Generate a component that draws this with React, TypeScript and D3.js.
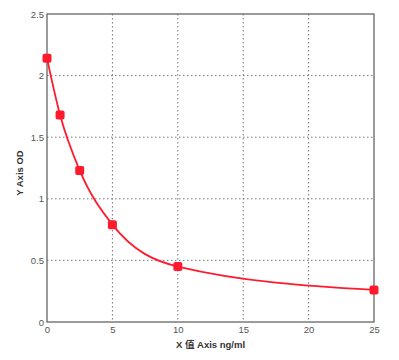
import React, { useEffect, useRef } from "react";
import * as d3 from "d3";

const concentrations = [0, 1, 2.5, 5, 10, 25];
const odValues = [2.14, 1.68, 1.23, 0.79, 0.45, 0.26];
const xTicks = [0, 5, 10, 15, 20, 25];
const yTicks = [0, 0.5, 1, 1.5, 2, 2.5];

export default function App() {
  const ref = useRef<SVGSVGElement>(null);

  useEffect(() => {
    const svg = d3.select(ref.current);
    svg.selectAll("*").remove();
    const margin = { left: 47, top: 14, right: 25, bottom: 38 };
    const width = 399;
    const height = 360;
    const innerW = width - margin.left - margin.right;
    const innerH = height - margin.top - margin.bottom;

    const x = d3.scaleLinear().domain([0, 25]).range([0, innerW]);
    const y = d3.scaleLinear().domain([0, 2.5]).range([innerH, 0]);

    const g = svg
      .append("g")
      .attr("transform", `translate(${margin.left},${margin.top})`);

    // dotted grid
    g.append("g")
      .selectAll("line")
      .data(xTicks.slice(1, -1))
      .enter()
      .append("line")
      .attr("x1", (d) => x(d))
      .attr("x2", (d) => x(d))
      .attr("y1", 0)
      .attr("y2", innerH)
      .attr("stroke", "#777")
      .attr("stroke-width", 1)
      .attr("stroke-dasharray", "1.5,2.5");
    g.append("g")
      .selectAll("line")
      .data(yTicks.slice(1, -1))
      .enter()
      .append("line")
      .attr("x1", 0)
      .attr("x2", innerW)
      .attr("y1", (d) => y(d))
      .attr("y2", (d) => y(d))
      .attr("stroke", "#777")
      .attr("stroke-width", 1)
      .attr("stroke-dasharray", "1.5,2.5");

    // frame
    g.append("rect")
      .attr("width", innerW)
      .attr("height", innerH)
      .attr("fill", "none")
      .attr("stroke", "#666")
      .attr("stroke-width", 1.3);

    const xAxis = g
      .append("g")
      .attr("transform", `translate(0,${innerH})`)
      .call(d3.axisBottom(x).tickValues(xTicks).tickSize(0).tickPadding(4).tickFormat(d3.format("d")));
    const yAxis = g
      .append("g")
      .call(d3.axisLeft(y).tickValues(yTicks).tickSize(0).tickPadding(3).tickFormat((d) => String(d)));
    [xAxis, yAxis].forEach((a) => {
      a.select(".domain").remove();
      a.selectAll("text")
        .attr("fill", "#555")
        .attr("font-size", 9.5)
        .attr("font-family", "Arial, 'Liberation Sans', sans-serif");
    });

    // fitted curve through standards
    const pts = concentrations.map((c, i) => [c, odValues[i]] as [number, number]);
    const line = d3
      .line<[number, number]>()
      .x((d) => x(d[0]))
      .y((d) => y(d[1]))
      .curve(d3.curveMonotoneX);
    g.append("path")
      .datum(pts)
      .attr("d", line)
      .attr("fill", "none")
      .attr("stroke", "#ff1a2e")
      .attr("stroke-width", 1.8);

    g.selectAll("rect.pt")
      .data(pts)
      .enter()
      .append("rect")
      .attr("class", "pt")
      .attr("x", (d) => x(d[0]) - 4.5)
      .attr("y", (d) => y(d[1]) - 4.5)
      .attr("width", 9)
      .attr("height", 9)
      .attr("rx", 2)
      .attr("fill", "#ff1a2e");

    g.append("text")
      .text("X 值 Axis ng/ml")
      .attr("x", innerW / 2)
      .attr("y", innerH + 26)
      .attr("text-anchor", "middle")
      .attr("font-size", 9.5)
      .attr("font-weight", "bold")
      .attr("fill", "#333")
      .attr("font-family", "Arial, 'Liberation Sans', 'Noto Sans CJK SC', sans-serif");

    g.append("text")
      .text("Y Axis OD")
      .attr("transform", `translate(-24,${innerH / 2 + 5}) rotate(-90)`)
      .attr("text-anchor", "middle")
      .attr("font-size", 9.5)
      .attr("font-weight", "bold")
      .attr("fill", "#333")
      .attr("font-family", "Arial, 'Liberation Sans', sans-serif");
  }, []);

  return (
    <svg
      ref={ref}
      width={399}
      height={360}
      style={{ position: "absolute", left: 0, top: 0, background: "#fff" }}
    />
  );
}
